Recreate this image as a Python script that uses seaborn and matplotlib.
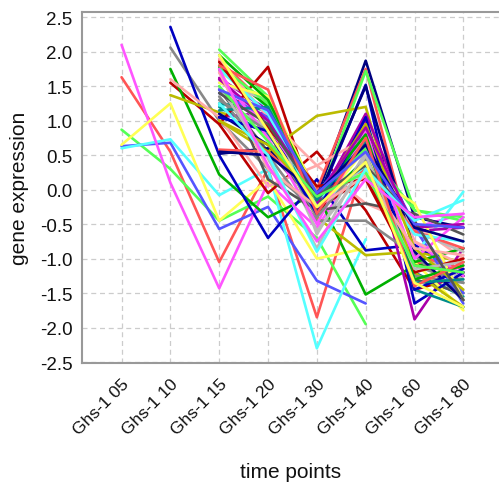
import numpy as np
import pandas as pd
import matplotlib
import matplotlib.pyplot as plt
from matplotlib.ticker import FormatStrFormatter
import seaborn as sns

N = np.nan

# time points (x axis)
time_points = ['Ghs-1 05', 'Ghs-1 10', 'Ghs-1 15', 'Ghs-1 20',
               'Ghs-1 30', 'Ghs-1 40', 'Ghs-1 60', 'Ghs-1 80']

# colours used for the profiles
palette = {
    'red': '#FF5555', 'lightgreen': '#55FF55', 'blue': '#5555FF',
    'cyan': '#55FFFF', 'magenta': '#FF55FF', 'yellow': '#FFFF55',
    'gray': '#888888', 'darkred': '#BB0000', 'green': '#00B000',
    'blue2': '#0000C0', 'olive': '#BBBB00', 'teal': '#008B8B',
    'purple': '#AA00AA', 'pink': '#FFAAAA', 'lightgray': '#BBBBBB',
    'darkgray': '#555555', 'navy': '#000080',
}

# genes measured from 05 on
genes_from_05 = [
    [1.63, 0.55, -1.05, 0.30, -1.85, 0.45, -1.05, -1.20],
    [0.87, 0.30, -0.45, -0.10, -0.70, -1.95, N, N],
    [0.63, 0.68, -0.57, -0.25, -1.32, -1.65, N, N],
    [0.60, 0.73, -0.08, 0.30, -2.30, -0.72, N, N],
    [2.10, 0.10, -1.43, 0.10, -0.55, 0.50, -0.55, -0.35],
    [0.65, 1.25, -0.45, 0.15, -1.00, -0.85, N, N],
]
colors_from_05 = ['red', 'lightgreen', 'blue', 'cyan', 'magenta', 'yellow']

# genes measured from 10 on
genes_from_10 = [
    [N, 2.06, 1.00, 0.30, -0.30, 0.85, -1.10, -1.35],
    [N, 1.55, 0.95, -0.05, 0.55, -0.30, -1.45, -1.25],
    [N, 1.75, 0.22, -0.40, -0.05, -1.52, -1.10, -1.05],
    [N, 2.36, 0.50, -0.70, 0.15, -0.88, -0.80, -1.25],
    [N, 1.37, 1.12, 0.95, -0.40, -0.95, -0.90, -1.05],
    [N, 1.60, 1.05, 0.05, 0.35, -0.20, -0.50, -1.00],
]
colors_from_10 = ['gray', 'darkred', 'green', 'blue2', 'olive', 'pink']

# genes measured from 15 on
genes_from_15 = [
    [N, N, 1.20, 0.80, -0.10, 0.70, -1.20, -1.55],
    [N, N, 1.05, 1.12, -0.15, 1.00, -1.88, -0.85],
    [N, N, 1.30, 0.90, -0.60, 0.30, -0.90, -1.30],
    [N, N, 1.45, 0.55, -0.20, 0.60, -1.30, -1.50],
    [N, N, 0.52, 0.60, -0.10, 1.87, -0.40, -0.55],
    [N, N, 1.88, 1.20, 0.00, 1.75, -0.95, -1.15],
    [N, N, 2.03, 1.35, -0.20, 1.72, -0.30, -0.40],
    [N, N, 1.45, 1.00, -0.30, 0.85, -0.55, -1.65],
    [N, N, 1.22, 1.25, -0.15, 0.40, -0.95, -0.03],
    [N, N, 1.60, 0.90, -0.10, 0.95, -0.75, -1.25],
    [N, N, 1.70, 1.30, -0.30, 0.60, -1.05, -1.75],
    [N, N, 1.35, 0.50, -0.45, -0.45, -0.95, -1.60],
    [N, N, 0.95, 1.78, -0.30, 0.20, -1.10, -1.20],
    [N, N, 1.78, 1.20, -0.25, 0.45, -1.05, -0.85],
    [N, N, 1.05, 0.85, -0.20, 1.52, -1.65, -1.20],
    [N, N, 1.00, 0.55, 1.07, 1.20, -1.20, -1.70],
    [N, N, 1.25, 1.15, -0.35, 0.90, -1.45, -1.70],
    [N, N, 1.62, 1.15, -0.20, 1.10, -0.60, -0.55],
    [N, N, 1.90, 1.05, 0.35, 0.75, -0.75, -1.10],
    [N, N, 1.55, 1.30, -0.65, 0.55, -0.60, -0.90],
    [N, N, 1.75, 0.15, -0.30, -0.20, -0.35, -0.65],
    [N, N, 1.10, 0.65, -0.15, 1.50, -0.90, -1.60],
    [N, N, 0.58, 0.55, -0.10, 0.30, -0.60, -0.85],
    [N, N, 1.80, 1.25, -0.10, 0.60, -0.30, -0.45],
    [N, N, 1.40, 1.05, -0.05, 0.80, -0.50, -1.50],
    [N, N, 1.75, 1.10, -0.25, 0.35, -0.65, -0.75],
    [N, N, 1.70, 0.75, -0.50, 0.85, -1.00, -0.40],
    [N, N, 1.55, 1.35, -0.05, 0.25, -0.20, -1.60],
    [N, N, 1.30, 0.85, -0.40, 0.45, -1.25, -1.35],
    [N, N, 1.85, 0.90, 0.05, 0.15, -1.20, -1.00],
    [N, N, 1.95, 1.30, -0.10, 0.80, -1.30, -1.10],
    [N, N, 1.05, 0.85, -0.35, 1.05, -1.45, -1.15],
    [N, N, 1.00, 0.65, -0.15, 0.95, -0.85, -1.45],
    [N, N, 1.15, 1.20, -0.15, 0.70, -1.35, -1.30],
    [N, N, 1.60, 1.00, -0.10, 0.90, -0.55, -0.50],
    [N, N, 1.70, 0.30, -0.25, 0.20, -0.85, -0.95],
    [N, N, 1.50, 0.45, -0.85, 0.50, -1.15, -1.05],
    [N, N, 1.40, 0.95, -0.10, 0.35, -0.45, -1.60],
    [N, N, 0.55, 0.50, -0.05, 0.65, -0.55, -0.75],
    [N, N, 1.80, 1.45, -0.35, 0.75, -1.40, -1.05],
    [N, N, 1.50, 0.70, -0.10, 0.25, -1.10, -1.20],
    [N, N, 1.45, 1.15, -0.05, 0.55, -0.50, -0.55],
    [N, N, 1.25, 0.50, -0.90, 0.30, -0.45, -0.15],
    [N, N, 1.75, 0.35, -0.75, 0.15, -0.40, -0.35],
    [N, N, 1.95, 0.85, -0.25, 0.40, -1.35, -1.70],
]
colors_from_15 = ['teal', 'purple', 'lightgray', 'darkgray', 'navy',
                  'red', 'lightgreen', 'blue', 'cyan', 'magenta', 'yellow',
                  'gray', 'darkred', 'green', 'blue2', 'olive', 'teal',
                  'purple', 'pink', 'lightgray', 'darkgray', 'navy',
                  'red', 'lightgreen', 'blue', 'cyan', 'magenta', 'yellow',
                  'gray', 'darkred', 'green', 'blue2', 'olive', 'teal',
                  'purple', 'pink', 'lightgray', 'darkgray', 'navy',
                  'red', 'lightgreen', 'blue', 'cyan', 'magenta', 'yellow']

# long table
rows = []
line_colors = {}
gid = 0
for genes, cols in [(genes_from_05, colors_from_05),
                    (genes_from_10, colors_from_10),
                    (genes_from_15, colors_from_15)]:
    for vals, c in zip(genes, cols):
        name = 'g%02d' % gid
        line_colors[name] = palette[c]
        for t, v in zip(time_points, vals):
            if not np.isnan(v):
                rows.append((name, t, v))
        gid += 1
df = pd.DataFrame(rows, columns=['gene', 'time', 'expression'])
df['time'] = pd.Categorical(df['time'], categories=time_points, ordered=True)
df['pos'] = df['time'].cat.codes

sns.set_style('white')
plt.rcParams['font.family'] = ['Liberation Sans', 'DejaVu Sans']
plt.rcParams['axes.unicode_minus'] = False

fig = plt.figure(figsize=(4.99, 4.85), dpi=100)
ax = fig.add_axes([0.1643, 0.2485, 0.8357, 0.7253])

sns.lineplot(data=df, x='pos', y='expression', hue='gene', palette=line_colors,
             estimator=None, sort=False, legend=False, linewidth=1.9, ax=ax)

ax.set_xlim(-0.81, 7.73)
ax.set_ylim(-2.52, 2.58)
ax.set_xticks(range(len(time_points)))
ax.set_xticklabels(time_points, rotation=45, ha='right', rotation_mode='anchor',
                   fontsize=12.5, color='#111111')
ax.set_yticks(np.arange(-2.5, 2.51, 0.5))
ax.yaxis.set_major_formatter(FormatStrFormatter('%.1f'))
ax.tick_params(axis='y', labelsize=13.5, labelcolor='#111111', pad=3)
ax.tick_params(axis='x', pad=5)
ax.tick_params(length=4, width=1, color='#999999', direction='out')
ax.grid(True, linestyle=(0, (4, 3)), color='#CCCCCC', linewidth=0.9)
ax.set_axisbelow(True)
for s in ['left', 'bottom', 'top']:
    ax.spines[s].set_color('#999999')
    ax.spines[s].set_linewidth(1.5)
ax.spines['right'].set_visible(False)

ax.set_xlabel('time points', fontsize=15, labelpad=18, color='#111111')
ax.set_ylabel('gene expression', fontsize=15, labelpad=8, color='#111111')

fig.savefig('out.png', dpi=100)
